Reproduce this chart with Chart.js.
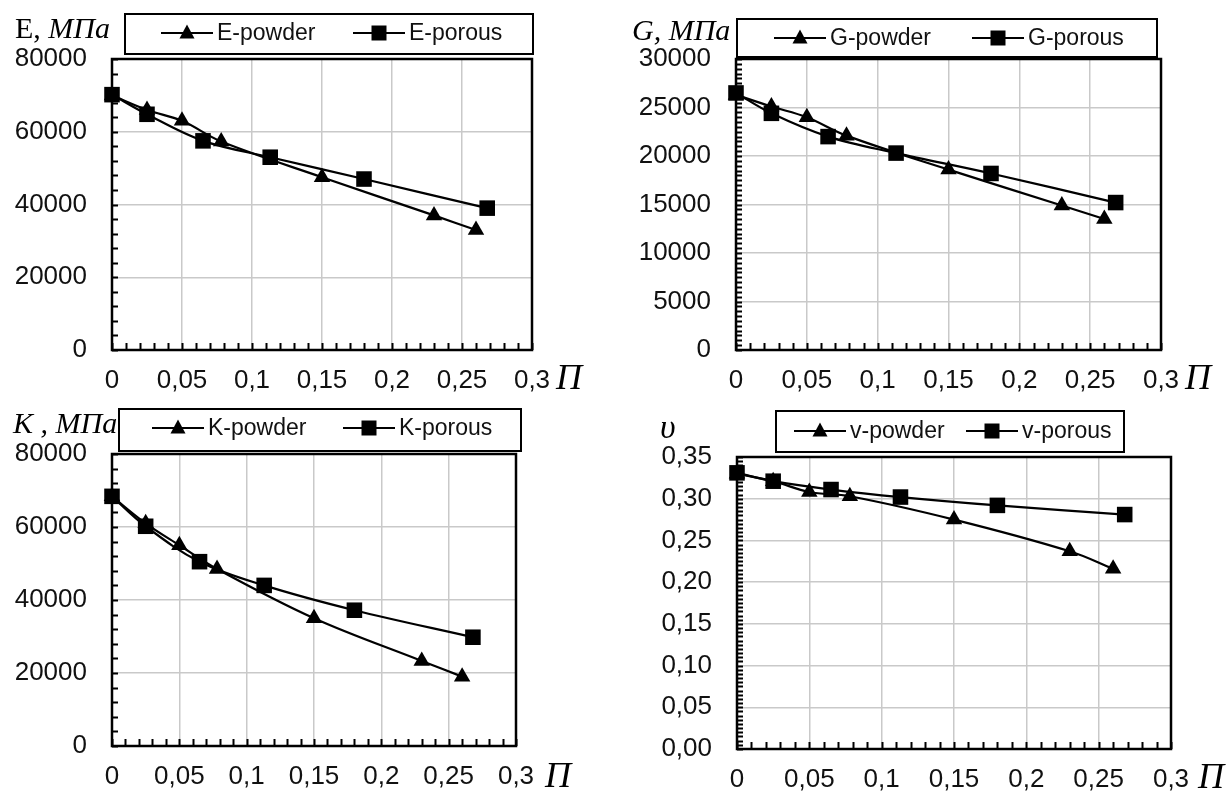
<!DOCTYPE html>
<html lang="ru">
<head>
<meta charset="UTF-8">
<title>Упругие характеристики в зависимости от пористости</title>
<style>
  html, body { margin: 0; padding: 0; background: #fff; }
  #grid { position: relative; width: 1228px; height: 792px; overflow: hidden; }
  .cell { position: absolute; width: 614px; height: 396px; }
</style>
</head>
<body>
<div id="grid">
  <div class="cell" style="left:0;top:0"><canvas id="chartE" width="614" height="396"></canvas></div>
  <div class="cell" style="left:614px;top:0"><canvas id="chartG" width="614" height="396"></canvas></div>
  <div class="cell" style="left:0;top:396px"><canvas id="chartK" width="614" height="396"></canvas></div>
  <div class="cell" style="left:614px;top:396px"><canvas id="chartV" width="614" height="396"></canvas></div>
</div>

<script src="https://cdn.jsdelivr.net/npm/chart.js@4.4.2/dist/chart.umd.min.js"></script>
<script>
// porosity values (П) for both material types
const porosityPowder = [0, 0.025, 0.05, 0.078, 0.15, 0.23, 0.26];
const porosityPorous = [0, 0.025, 0.065, 0.113, 0.18, 0.268];

// Young's modulus, MPa
const ePowder = [70000, 66000, 63000, 57300, 47500, 37000, 33000];
const ePorous = [70200, 64800, 57500, 53000, 47000, 39000];

// shear modulus, MPa
const gPowder = [26300, 25100, 24000, 22100, 18600, 14900, 13500];
const gPorous = [26500, 24400, 22000, 20300, 18200, 15200];

// bulk modulus, MPa
const kPowder = [68400, 61000, 55000, 48500, 35000, 23300, 19000];
const kPorous = [68400, 60200, 50500, 44000, 37200, 29800];

// Poisson's ratio
const vPowder = [0.33, 0.321, 0.308, 0.303, 0.275, 0.237, 0.216];
const vPorous = [0.331, 0.321, 0.311, 0.302, 0.292, 0.281];

// tick labels
const xTicks = [0, 0.05, 0.1, 0.15, 0.2, 0.25, 0.3];
const eTicks = [0, 20000, 40000, 60000, 80000];
const gTicks = [0, 5000, 10000, 15000, 20000, 25000, 30000];
const kTicks = [0, 20000, 40000, 60000, 80000];
const vTicks = [0, 0.05, 0.1, 0.15, 0.2, 0.25, 0.3, 0.35];

const SANS = 'Arial, "Liberation Sans", sans-serif';
const SERIF = '"Times New Roman", "Liberation Serif", serif';

function pairs(xs, ys) {
  return xs.map((x, i) => ({ x: x, y: ys[i] }));
}

function commaNum(v, digits) {
  const s = digits == null ? String(Math.round(v * 1000) / 1000) : v.toFixed(digits);
  return s.replace('.', ',');
}

// frame around the plot and the small inward tick marks
const frameTicks = {
  id: 'frameTicks',
  beforeDatasetsDraw(chart, args, opts) {
    const { ctx, chartArea: a, scales } = chart;
    ctx.save();
    ctx.strokeStyle = '#000';
    ctx.lineWidth = 2;
    ctx.beginPath();
    const xs = scales.x, ys = scales.y;
    for (let v = xs.min; v <= xs.max + 1e-9; v += opts.xMinor) {
      const px = Math.round(xs.getPixelForValue(v)) + 0.5;
      ctx.moveTo(px, a.bottom);
      ctx.lineTo(px, a.bottom - 7);
    }
    for (let v = ys.min; v <= ys.max + 1e-9; v += opts.yMinor) {
      const py = Math.round(ys.getPixelForValue(v)) + 0.5;
      ctx.moveTo(a.left, py);
      ctx.lineTo(a.left + 6, py);
    }
    ctx.stroke();
    ctx.lineWidth = 2.5;
    ctx.strokeRect(a.left, a.top, a.right - a.left, a.bottom - a.top);
    ctx.restore();
  }
};

function drawMarker(ctx, style, x, y) {
  ctx.beginPath();
  if (style === 'rect') {
    ctx.rect(x - 7.5, y - 7.5, 15, 15);
  } else {
    ctx.moveTo(x, y - 8.5);
    ctx.lineTo(x + 7.5, y + 5.5);
    ctx.lineTo(x - 7.5, y + 5.5);
    ctx.closePath();
  }
  ctx.fill();
}

// boxed legend above the plot
const boxLegend = {
  id: 'boxLegend',
  afterDraw(chart, args, opts) {
    const { ctx } = chart;
    const b = opts.box;
    ctx.save();
    ctx.fillStyle = '#fff';
    ctx.fillRect(b[0], b[1], b[2] - b[0], b[3] - b[1]);
    ctx.strokeStyle = '#000';
    ctx.lineWidth = 2;
    ctx.strokeRect(b[0], b[1], b[2] - b[0], b[3] - b[1]);
    ctx.font = '23px ' + SANS;
    ctx.textBaseline = 'middle';
    chart.data.datasets.forEach((ds, i) => {
      const x0 = opts.items[i];
      const y = opts.textY;
      ctx.strokeStyle = '#000';
      ctx.lineWidth = 2.2;
      ctx.beginPath();
      ctx.moveTo(x0, y);
      ctx.lineTo(x0 + 52, y);
      ctx.stroke();
      ctx.fillStyle = '#000';
      drawMarker(ctx, ds.pointStyle, x0 + 26, y);
      ctx.fillStyle = '#111';
      ctx.fillText(ds.label, x0 + 56, y + 1);
    });
    ctx.restore();
  }
};

// value-axis caption at top-left and П next to the last x label
const axisCaptions = {
  id: 'axisCaptions',
  afterDraw(chart, args, opts) {
    const { ctx } = chart;
    ctx.save();
    ctx.fillStyle = '#000';
    ctx.textBaseline = 'alphabetic';
    let x = opts.title.x;
    opts.title.parts.forEach(p => {
      ctx.font = (p.italic ? 'italic ' : '') + opts.title.size + 'px ' + SERIF;
      ctx.fillText(p.text, x, opts.title.y);
      x += ctx.measureText(p.text).width;
    });
    ctx.font = 'italic 36px ' + SERIF;
    ctx.fillText('П', opts.pi.x, opts.pi.y);
    ctx.restore();
  }
};

function makeChart(id, cfg) {
  const W = 614, H = 396;
  const g = cfg.geom;
  return new Chart(document.getElementById(id), {
    type: 'line',
    data: {
      datasets: [
        {
          label: cfg.names[0],
          data: pairs(porosityPowder, cfg.powder),
          pointStyle: 'triangle',
          pointRadius: 9.5,
          order: 1
        },
        {
          label: cfg.names[1],
          data: pairs(porosityPorous, cfg.porous),
          pointStyle: 'rect',
          pointRadius: 11,
          order: 0
        }
      ].map(ds => Object.assign(ds, {
        borderColor: '#000',
        backgroundColor: '#000',
        borderWidth: 2.2,
        pointBorderWidth: 0,
        pointHoverRadius: ds.pointRadius,
        tension: 0.35,
        clip: false
      }))
    },
    options: {
      responsive: false,
      animation: false,
      devicePixelRatio: 1,
      events: [],
      layout: { padding: { left: 0, top: g.top, right: W - g.right, bottom: 0 } },
      scales: {
        x: {
          type: 'linear',
          min: 0,
          max: 0.3,
          afterBuildTicks: s => { s.ticks = xTicks.map(v => ({ value: v })); },
          afterFit: s => { s.height = H - g.bottom; },
          grid: { color: '#c9c9c9', lineWidth: 1.5, drawTicks: false },
          border: { display: false },
          ticks: {
            padding: 15,
            maxRotation: 0,
            autoSkip: false,
            color: '#111',
            font: { family: SANS, size: 26 },
            callback: v => commaNum(v)
          }
        },
        y: {
          type: 'linear',
          min: cfg.yTicks[0],
          max: cfg.yTicks[cfg.yTicks.length - 1],
          afterBuildTicks: s => { s.ticks = cfg.yTicks.map(v => ({ value: v })); },
          afterFit: s => { s.width = g.left; },
          grid: { color: '#c9c9c9', lineWidth: 1.5, drawTicks: false },
          border: { display: false },
          ticks: {
            padding: 25,
            color: '#111',
            font: { family: SANS, size: 26 },
            callback: cfg.yLabel
          }
        }
      },
      plugins: {
        legend: { display: false },
        tooltip: { enabled: false },
        frameTicks: { xMinor: 0.01, yMinor: cfg.yMinor },
        boxLegend: cfg.legend,
        axisCaptions: cfg.captions
      }
    },
    plugins: [frameTicks, boxLegend, axisCaptions]
  });
}

makeChart('chartE', {
  names: ['E-powder', 'E-porous'],
  powder: ePowder,
  porous: ePorous,
  yTicks: eTicks,
  yMinor: 4000,
  yLabel: v => String(v),
  geom: { left: 112, right: 532, top: 59, bottom: 350 },
  legend: { box: [125, 14, 533, 54], items: [161, 353], textY: 33 },
  captions: {
    title: { x: 15, y: 38, size: 30, parts: [{ text: 'E, ', italic: false }, { text: 'МПа', italic: true }] },
    pi: { x: 556, y: 389 }
  }
});

makeChart('chartG', {
  names: ['G-powder', 'G-porous'],
  powder: gPowder,
  porous: gPorous,
  yTicks: gTicks,
  yMinor: 500,
  yLabel: v => String(v),
  geom: { left: 122, right: 547, top: 59, bottom: 350 },
  legend: { box: [123, 19, 543, 57], items: [160, 358], textY: 38 },
  captions: {
    title: { x: 18, y: 40, size: 30, parts: [{ text: 'G, МПа', italic: true }] },
    pi: { x: 571, y: 389 }
  }
});

makeChart('chartK', {
  names: ['K-powder', 'K-porous'],
  powder: kPowder,
  porous: kPorous,
  yTicks: kTicks,
  yMinor: 4000,
  yLabel: v => String(v),
  geom: { left: 112, right: 516, top: 58, bottom: 350 },
  legend: { box: [119, 13, 521, 55], items: [152, 343], textY: 32 },
  captions: {
    title: { x: 13, y: 37, size: 30, parts: [{ text: 'K , МПа', italic: true }] },
    pi: { x: 545, y: 391 }
  }
});

makeChart('chartV', {
  names: ['v-powder', 'v-porous'],
  powder: vPowder,
  porous: vPorous,
  yTicks: vTicks,
  yMinor: 0.005,
  yLabel: v => commaNum(v, 2),
  geom: { left: 123, right: 557, top: 61, bottom: 353 },
  legend: { box: [162, 15, 510, 56], items: [180, 352], textY: 35 },
  captions: {
    title: { x: 46, y: 42, size: 34, parts: [{ text: 'υ', italic: true }] },
    pi: { x: 584, y: 392 }
  }
});
</script>
</body>
</html>
